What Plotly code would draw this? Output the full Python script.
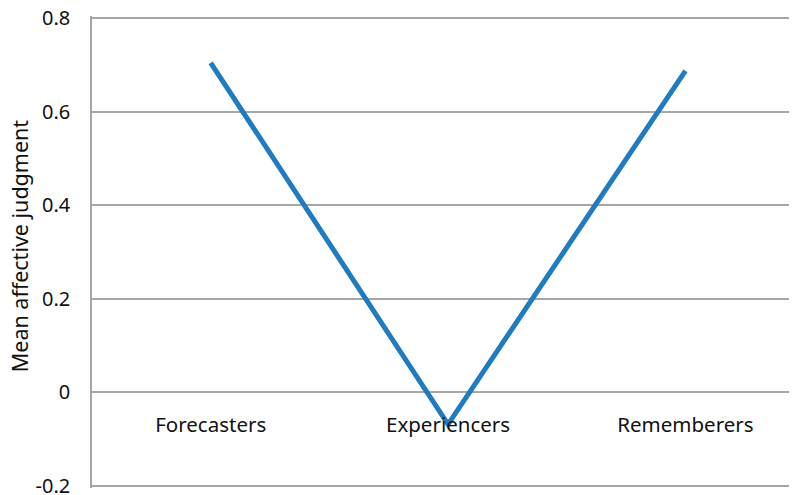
import plotly.graph_objects as go

categories = ["Forecasters", "Experiencers", "Rememberers"]
values = [0.704, -0.068, 0.687]
y_ticks = [-0.2, 0, 0.2, 0.4, 0.6, 0.8]
y_tick_labels = ["-0.2", "0", "0.2", "0.4", "0.6", "0.8"]
y_title = "Mean affective judgment"

y_lo, y_hi = -0.204, 0.804

fig = go.Figure()
fig.add_trace(go.Scatter(
    x=list(range(len(categories))), y=values, mode="lines",
    line=dict(color="#1f7cc1", width=5), hoverinfo="skip"))

# page body has an 8px default margin; figure sized to fill the rest of the window
fig.update_layout(
    width=789, height=487,
    margin=dict(l=84, r=0, t=8, b=7),
    paper_bgcolor="white", plot_bgcolor="white",
    showlegend=False,
    font=dict(family="Noto Sans", color="#111111"),
)
fig.update_xaxes(
    range=[-0.5, 2.47], tickmode="array",
    tickvals=list(range(len(categories))), ticktext=categories,
    showgrid=False, zeroline=False, showline=False,
    anchor="free", position=(0 - y_lo) / (y_hi - y_lo),
    ticks="", ticklabelstandoff=18, automargin=False,
    tickfont=dict(size=20.5, family="Noto Sans"),
)
fig.update_yaxes(
    range=[y_lo, y_hi], tickmode="array", tickvals=y_ticks, ticktext=y_tick_labels,
    showgrid=True, gridcolor="#a6a6a6", gridwidth=1.5,
    zeroline=False, showline=True, linecolor="#a6a6a6", linewidth=1.5,
    ticks="", ticklabelstandoff=16, automargin=False, ticklabeloverflow="allow",
    tickfont=dict(size=20, family="Noto Sans"),
)
fig.add_annotation(
    text=y_title, textangle=-90, showarrow=False,
    xref="paper", yref="paper", x=-0.103, y=0.513,
    xanchor="center", yanchor="middle",
    font=dict(size=21.5, family="Noto Sans", color="#111111"),
)
fig.write_html("out.html")
